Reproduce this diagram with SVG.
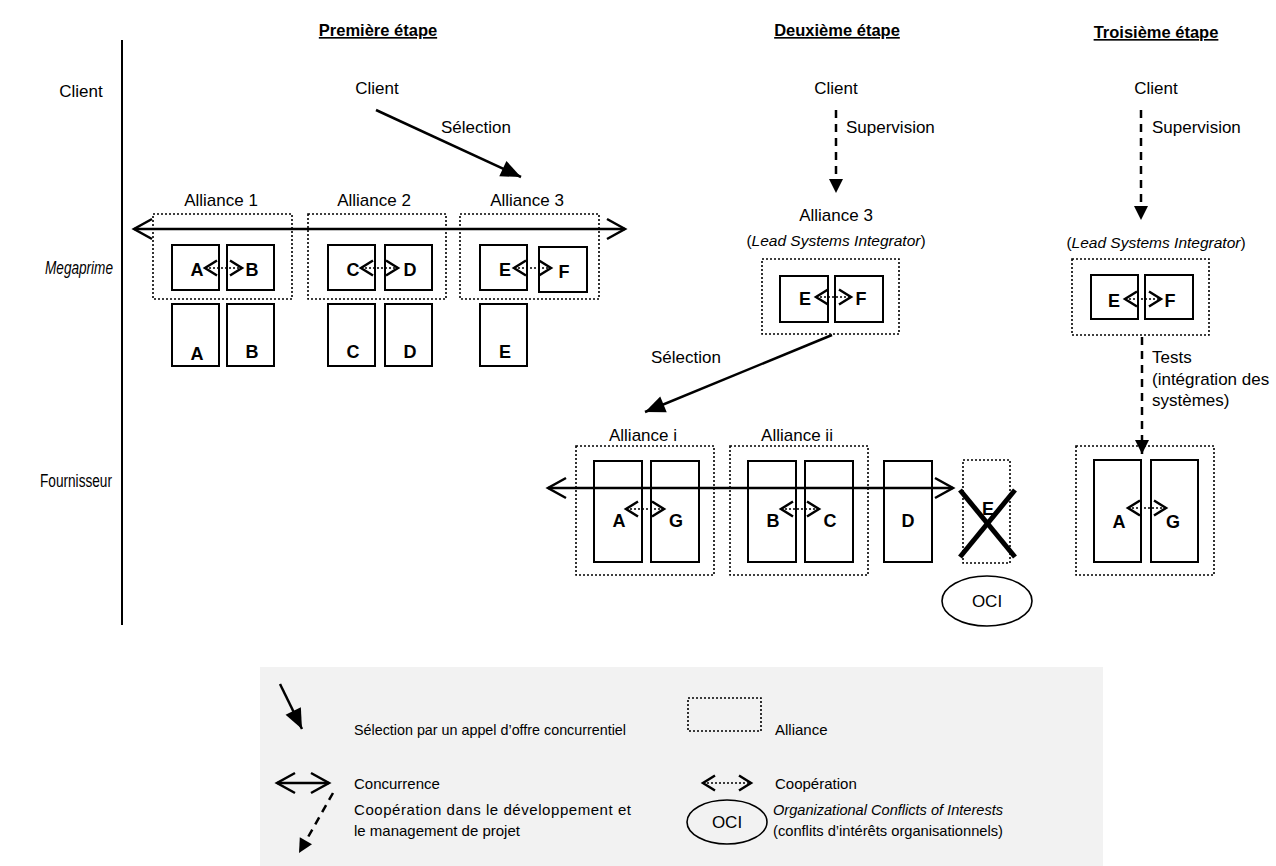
<svg xmlns="http://www.w3.org/2000/svg" width="1276" height="866" viewBox="0 0 1276 866">
<style>
text{font-family:"Liberation Sans",Arial,sans-serif;fill:#000}
.t{font-size:17px}
.rl{font-size:18px}
.lsi{font-size:15.5px}
.h{font-size:16.5px;font-weight:bold;text-decoration:underline}
.l{font-size:18px;font-weight:bold}
.it{font-style:italic}
.lg{font-size:15px}
.box{fill:#fff;stroke:#000;stroke-width:2}
.al{fill:none;stroke:#000;stroke-width:1.6;stroke-dasharray:2 2}
.conc{fill:none;stroke:#000;stroke-width:2.5;marker-start:url(#chev);marker-end:url(#chev)}
.coop{fill:none;stroke:#000;stroke-width:1.6;stroke-dasharray:2 2;marker-start:url(#cchev);marker-end:url(#cchev)}
.sel{fill:none;stroke:#000;stroke-width:2.5;marker-end:url(#tri)}
.dash{fill:none;stroke:#000;stroke-width:2.5;stroke-dasharray:8 6;marker-end:url(#tri2)}
</style>
<defs>
<marker id="chev" markerUnits="userSpaceOnUse" viewBox="-20 -12 22 24" markerWidth="22" markerHeight="24" refX="0" refY="0" orient="auto-start-reverse" overflow="visible">
<path d="M-18,-10 L0,0 L-18,10" fill="none" stroke="#000" stroke-width="2.5"/>
</marker>
<marker id="cchev" markerUnits="userSpaceOnUse" viewBox="-14 -9 16 18" markerWidth="16" markerHeight="18" refX="0" refY="0" orient="auto-start-reverse" overflow="visible">
<path d="M-12,-7.5 L0,0 L-12,7.5" fill="none" stroke="#000" stroke-width="2.5" stroke-dasharray="none"/>
</marker>
<marker id="tri" markerUnits="userSpaceOnUse" viewBox="-20 -9 20 18" markerWidth="20" markerHeight="18" refX="0" refY="0" orient="auto" overflow="visible">
<path d="M-20,-8.5 L0,0 L-20,8.5 Z" fill="#000"/>
</marker>
<marker id="tri2" markerUnits="userSpaceOnUse" viewBox="-14 -8 14 16" markerWidth="14" markerHeight="16" refX="0" refY="0" orient="auto" overflow="visible">
<path d="M-14,-7 L0,0 L-14,7 Z" fill="#000"/>
</marker>
</defs>
<rect width="1276" height="866" fill="#fff"/>

<g id="titles">
<text class="h" x="378" y="36" text-anchor="middle">Première étape</text>
<text class="h" x="837" y="36" text-anchor="middle">Deuxième étape</text>
<text class="h" x="1156" y="38" text-anchor="middle">Troisième étape</text>
</g>

<g id="rows">
<text class="t" x="81" y="97" text-anchor="middle">Client</text>
<text class="rl it" x="113" y="274" text-anchor="end" textLength="68" lengthAdjust="spacingAndGlyphs">Megaprime</text>
<text class="rl" x="112" y="487" text-anchor="end" textLength="72" lengthAdjust="spacingAndGlyphs">Fournisseur</text>
<line x1="122" y1="40" x2="122" y2="625" stroke="#000" stroke-width="2"/>
</g>

<!-- Stage 1 -->
<g id="s1-client"><text class="t" x="377" y="94" text-anchor="middle">Client</text></g>
<g id="s1-alliance1">
<text class="t" x="221" y="206" text-anchor="middle">Alliance 1</text>
<rect class="al" x="153" y="214" width="139" height="85"/>
<rect class="box" x="172" y="245" width="47" height="45"/>
<rect class="box" x="227" y="245" width="47" height="45"/>
<text class="l" x="197" y="276" text-anchor="middle">A</text>
<text class="l" x="252" y="276" text-anchor="middle">B</text>
</g>
<g id="s1-alliance2">
<text class="t" x="374" y="206" text-anchor="middle">Alliance 2</text>
<rect class="al" x="308" y="214" width="138" height="85"/>
<rect class="box" x="328" y="245" width="47" height="45"/>
<rect class="box" x="385" y="245" width="47" height="45"/>
<text class="l" x="353" y="276" text-anchor="middle">C</text>
<text class="l" x="410" y="276" text-anchor="middle">D</text>
</g>
<g id="s1-alliance3">
<text class="t" x="527" y="206" text-anchor="middle">Alliance 3</text>
<rect class="al" x="460" y="214" width="139" height="85"/>
<rect class="box" x="480" y="245" width="47" height="45"/>
<rect class="box" x="539" y="247" width="48" height="45"/>
<text class="l" x="505" y="276" text-anchor="middle">E</text>
<text class="l" x="564" y="278" text-anchor="middle">F</text>
</g>
<g id="s1-suppliers">
<rect class="box" x="172" y="304" width="47" height="62"/>
<rect class="box" x="227" y="304" width="47" height="62"/>
<rect class="box" x="328" y="304" width="47" height="62"/>
<rect class="box" x="385" y="304" width="47" height="62"/>
<rect class="box" x="480" y="304" width="47" height="62"/>
<text class="l" x="197" y="360" text-anchor="middle">A</text>
<text class="l" x="252" y="358" text-anchor="middle">B</text>
<text class="l" x="353" y="358" text-anchor="middle">C</text>
<text class="l" x="410" y="358" text-anchor="middle">D</text>
<text class="l" x="505" y="358" text-anchor="middle">E</text>
</g>

<!-- Stage 2 -->
<g id="s2-client"><text class="t" x="836" y="94" text-anchor="middle">Client</text></g>
<g id="s2-lsi">
<text class="t" x="836" y="221" text-anchor="middle">Alliance 3</text>
<text class="lsi" x="836" y="246" text-anchor="middle">(<tspan class="it">Lead Systems Integrator</tspan>)</text>
<rect class="al" x="762" y="259" width="137" height="75"/>
<rect class="box" x="780" y="276" width="48" height="46"/>
<rect class="box" x="835" y="276" width="48" height="46"/>
<text class="l" x="805" y="305" text-anchor="middle">E</text>
<text class="l" x="861" y="305" text-anchor="middle">F</text>
</g>
<g id="s2-alliance-i">
<text class="t" x="643" y="441" text-anchor="middle">Alliance i</text>
<rect class="al" x="576" y="446" width="138" height="129"/>
<rect class="box" x="594" y="461" width="48" height="101"/>
<rect class="box" x="651" y="461" width="48" height="101"/>
<text class="l" x="619" y="527" text-anchor="middle">A</text>
<text class="l" x="676" y="527" text-anchor="middle">G</text>
</g>
<g id="s2-alliance-ii">
<text class="t" x="797" y="441" text-anchor="middle">Alliance ii</text>
<rect class="al" x="730" y="446" width="138" height="129"/>
<rect class="box" x="748" y="461" width="48" height="101"/>
<rect class="box" x="805" y="461" width="48" height="101"/>
<text class="l" x="773" y="527" text-anchor="middle">B</text>
<text class="l" x="830" y="527" text-anchor="middle">C</text>
</g>
<g id="s2-d">
<rect class="box" x="884" y="461" width="48" height="101"/>
<text class="l" x="908" y="527" text-anchor="middle">D</text>
</g>
<g id="s2-e">
<rect class="al" x="963" y="460" width="47" height="103"/>
<text class="l" x="988" y="515" text-anchor="middle">E</text>
<line x1="960" y1="490" x2="1015" y2="557" stroke="#000" stroke-width="5"/>
<line x1="1015" y1="490" x2="960" y2="557" stroke="#000" stroke-width="5"/>
</g>
<g id="s2-oci">
<ellipse cx="987" cy="601" rx="45" ry="25" fill="#fff" stroke="#000" stroke-width="1.6"/>
<text class="t" x="987" y="607" text-anchor="middle">OCI</text>
</g>

<!-- Stage 3 -->
<g id="s3-client"><text class="t" x="1156" y="94" text-anchor="middle">Client</text></g>
<g id="s3-lsi">
<text class="lsi" x="1156" y="248" text-anchor="middle">(<tspan class="it">Lead Systems Integrator</tspan>)</text>
<rect class="al" x="1072" y="259" width="137" height="76"/>
<rect class="box" x="1091" y="275" width="47" height="44"/>
<rect class="box" x="1145" y="275" width="48" height="44"/>
<text class="l" x="1114" y="307" text-anchor="middle">E</text>
<text class="l" x="1170" y="307" text-anchor="middle">F</text>
</g>
<g id="s3-alliance">
<rect class="al" x="1076" y="446" width="138" height="129"/>
<rect class="box" x="1094" y="460" width="47" height="102"/>
<rect class="box" x="1151" y="460" width="47" height="102"/>
<text class="l" x="1119" y="528" text-anchor="middle">A</text>
<text class="l" x="1173" y="528" text-anchor="middle">G</text>
</g>

<g id="connectors">
<line class="sel" x1="376" y1="110" x2="521" y2="177"/>
<text class="t" x="441" y="133">Sélection</text>
<line class="conc" x1="134" y1="229" x2="625" y2="229"/>
<line class="coop" x1="205" y1="268" x2="242" y2="268"/>
<line class="coop" x1="361" y1="268" x2="398" y2="268"/>
<line class="coop" x1="514" y1="268" x2="551" y2="268"/>

<line class="dash" x1="836" y1="110" x2="836" y2="193"/>
<text class="t" x="846" y="133">Supervision</text>
<line class="coop" x1="816" y1="297" x2="851" y2="297"/>
<line class="sel" x1="832" y1="335" x2="645" y2="412"/>
<text class="t" x="686" y="363" text-anchor="middle">Sélection</text>
<line class="conc" x1="548" y1="488" x2="953" y2="488"/>
<line class="coop" x1="626" y1="509" x2="664" y2="509"/>
<line class="coop" x1="781" y1="509" x2="819" y2="509"/>

<line class="dash" x1="1141" y1="110" x2="1141" y2="220"/>
<text class="t" x="1152" y="133">Supervision</text>
<line class="coop" x1="1125" y1="299" x2="1161" y2="299"/>
<line class="dash" x1="1142" y1="337" x2="1142" y2="454"/>
<text class="t" x="1152" y="363">Tests</text>
<text class="t" x="1152" y="385">(intégration des</text>
<text class="t" x="1152" y="406">systèmes)</text>
<line class="coop" x1="1128" y1="508" x2="1166" y2="508"/>
</g>

<g id="legend">
<rect x="260" y="667" width="843" height="199" fill="#f2f2f2"/>
<line class="sel" x1="280" y1="684" x2="302" y2="729"/>
<text class="lg" x="354" y="735" textLength="272" lengthAdjust="spacingAndGlyphs">Sélection par un appel d’offre concurrentiel</text>
<rect class="al" x="688" y="698" width="73" height="33"/>
<text class="lg" x="775" y="735">Alliance</text>
<line class="conc" x1="277" y1="783" x2="329" y2="783"/>
<text class="lg" x="354" y="789">Concurrence</text>
<line class="coop" x1="703" y1="783" x2="751" y2="783"/>
<text class="lg" x="775" y="789">Coopération</text>
<line class="dash" x1="333" y1="793" x2="299" y2="853"/>
<text class="lg" x="354" y="815" textLength="277" lengthAdjust="spacing">Coopération dans le développement et</text>
<text class="lg" x="354" y="836">le management de projet</text>
<ellipse cx="727" cy="822" rx="40" ry="22" fill="none" stroke="#000" stroke-width="1.6"/>
<text class="t" x="727" y="828" text-anchor="middle">OCI</text>
<text class="lg it" x="773" y="815" textLength="230" lengthAdjust="spacingAndGlyphs">Organizational Conflicts of Interests</text>
<text class="lg" x="773" y="836" textLength="230" lengthAdjust="spacingAndGlyphs">(conflits d’intérêts organisationnels)</text>
</g>
</svg>
